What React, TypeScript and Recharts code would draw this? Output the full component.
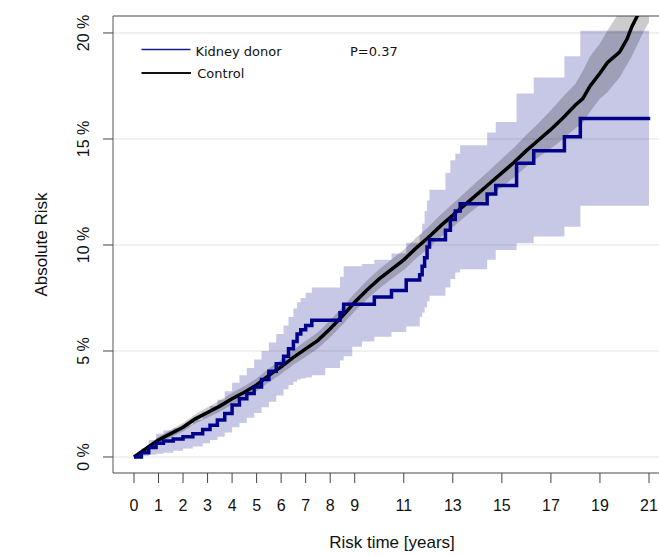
import React from "react";
import {
  ComposedChart,
  Line,
  Area,
  XAxis,
  YAxis,
  CartesianGrid,
  ReferenceArea,
} from "recharts";

// ---- Data (absolute risk in %) ----
const xTicks = [0, 1, 2, 3, 4, 5, 6, 7, 8, 9, 11, 13, 15, 17, 19, 21];
const yTicks = [0, 5, 10, 15, 20];

// Kidney donor (step curve)
const donorTime = [0, 0.3, 0.6, 0.9, 1.2, 1.6, 2.0, 2.4, 2.8, 3.1, 3.4, 3.7, 4.0, 4.3, 4.6, 4.9, 5.2, 5.5, 5.8, 6.1, 6.3, 6.5, 6.65, 6.8, 7.0, 7.25, 8.4, 8.55, 9.8, 10.5, 11.1, 11.65, 11.75, 11.85, 11.95, 12.05, 12.7, 12.9, 13.1, 13.3, 14.4, 14.75, 15.6, 16.3, 17.55, 18.2, 21.05];
const donorRisk = [0, 0.2, 0.45, 0.65, 0.75, 0.85, 0.95, 1.1, 1.3, 1.5, 1.75, 2.05, 2.45, 2.75, 3.0, 3.3, 3.65, 4.05, 4.4, 4.75, 5.1, 5.45, 5.8, 6.0, 6.2, 6.45, 6.8, 7.2, 7.55, 7.85, 8.35, 8.6, 9.0, 9.4, 9.9, 10.25, 10.7, 11.2, 11.6, 11.95, 12.4, 12.8, 13.85, 14.45, 15.1, 15.97, 15.97];

// Kidney donor confidence band (step)
const donorBandTime = [0, 0.3, 0.6, 0.9, 1.2, 1.6, 2.0, 2.4, 2.8, 3.1, 3.4, 3.7, 4.0, 4.3, 4.6, 4.9, 5.2, 5.5, 5.8, 6.1, 6.3, 6.5, 6.65, 6.8, 7.0, 7.25, 7.8, 8.4, 8.55, 8.9, 9.3, 9.8, 10.5, 11.1, 11.65, 11.75, 11.85, 11.95, 12.05, 12.7, 12.9, 13.1, 13.3, 14.4, 14.75, 15.6, 16.3, 17.55, 18.2, 21.0];
const donorBandLow = [0, 0.05, 0.1, 0.15, 0.2, 0.3, 0.4, 0.5, 0.65, 0.8, 0.95, 1.15, 1.4, 1.6, 1.85, 2.07, 2.35, 2.6, 2.9, 3.2, 3.4, 3.55, 3.65, 3.7, 3.75, 3.85, 4.2, 4.55, 4.75, 5.2, 5.45, 5.67, 5.9, 6.15, 6.6, 6.8, 7.05, 7.35, 7.6, 8.0, 8.4, 8.7, 8.85, 9.3, 9.76, 10.08, 10.4, 10.86, 11.85, 11.85];
const donorBandHigh = [0, 0.4, 0.8, 1.1, 1.25, 1.35, 1.5, 1.75, 2.1, 2.4, 2.7, 3.1, 3.5, 3.85, 4.2, 4.6, 5.0, 5.4, 5.8, 6.2, 6.6, 7.0, 7.3, 7.5, 7.75, 8.0, 8.0, 8.5, 9.0, 9.0, 9.1, 9.3, 9.6, 10.1, 10.5, 11.0, 11.6, 12.1, 12.6, 13.4, 14.0, 14.3, 14.7, 15.3, 15.8, 17.15, 17.9, 18.9, 20.1, 20.1];

// Control
const controlTime = [0, 0.5, 1, 1.5, 2, 2.5, 3, 3.5, 4, 4.5, 5, 5.5, 6, 6.5, 7, 7.5, 8, 8.5, 9, 9.5, 10, 10.5, 11, 11.5, 12, 12.5, 13, 13.5, 14, 14.5, 15, 15.5, 16, 16.5, 17, 17.5, 18, 18.3, 18.6, 19, 19.3, 19.8, 20.1, 20.3, 20.5, 20.8, 21];
const controlRisk = [0, 0.4, 0.8, 1.1, 1.4, 1.8, 2.1, 2.4, 2.75, 3.05, 3.4, 3.85, 4.25, 4.7, 5.1, 5.5, 6.05, 6.65, 7.3, 7.88, 8.4, 8.85, 9.3, 9.85, 10.35, 10.9, 11.4, 11.9, 12.4, 12.9, 13.4, 13.9, 14.45, 14.95, 15.45, 16.0, 16.6, 16.9, 17.5, 18.1, 18.6, 19.1, 19.7, 20.3, 20.75, 21.4, 21.8];
const controlLow = [0, 0.3, 0.65, 0.92, 1.2, 1.58, 1.85, 2.13, 2.47, 2.75, 3.1, 3.53, 3.91, 4.35, 4.73, 5.12, 5.65, 6.24, 6.88, 7.44, 7.95, 8.39, 8.82, 9.36, 9.85, 10.37, 10.85, 11.33, 11.8, 12.27, 12.73, 13.2, 13.7, 14.15, 14.55, 15.0, 15.5, 15.75, 16.3, 16.9, 17.2, 17.9, 18.5, 18.9, 19.4, 20.1, 20.5];
const controlHigh = [0, 0.5, 0.95, 1.28, 1.6, 2.02, 2.35, 2.67, 3.03, 3.35, 3.7, 4.17, 4.59, 5.05, 5.47, 5.88, 6.45, 7.06, 7.72, 8.32, 8.85, 9.31, 9.78, 10.34, 10.85, 11.43, 11.95, 12.47, 13.0, 13.53, 14.07, 14.6, 15.2, 15.75, 16.35, 17.0, 17.6, 18.2, 18.9, 19.5, 20.1, 21.0, 21.4, 21.7, 22.0, 22.5, 22.8];

const donorData = donorTime.map((t, i) => ({ t, risk: donorRisk[i] }));
const donorBandData = donorBandTime.map((t, i) => ({ t, lo: donorBandLow[i], hi: donorBandHigh[i] }));
const controlData = controlTime.map((t, i) => ({ t, risk: controlRisk[i] }));
const controlBandData = controlTime.map((t, i) => ({ t, lo: controlLow[i], hi: controlHigh[i] }));

const X_MIN = -0.856;
const X_MAX = 21.856;
const Y_MIN = -0.755;
const Y_MAX = 20.8;

const BLUE = "#00008B";
const AXIS_FONT = "'Liberation Sans', Arial, sans-serif";
const LEGEND_FONT = "'DejaVu Sans', Verdana, sans-serif";

const XTick = (props: any) => {
  const { x, y, payload } = props;
  return (
    <text x={x} y={y} dy="0.71em" textAnchor="middle" fontFamily={AXIS_FONT} fontSize={16} fill="#111">
      {payload.value}
    </text>
  );
};

const YTick = (props: any) => {
  const { x, y, payload } = props;
  return (
    <text
      x={x}
      y={y}
      transform={`rotate(-90 ${x} ${y})`}
      textAnchor="middle"
      fontFamily={AXIS_FONT}
      fontSize={16}
      fill="#111"
    >
      {`${payload.value} %`}
    </text>
  );
};

export default function App() {
  return (
    <div
      style={{
        position: "absolute",
        left: 0,
        top: 0,
        width: 659,
        height: 556,
        overflow: "hidden",
        background: "#fff",
      }}
    >
      <ComposedChart
        width={680}
        height={556}
        margin={{ top: 16, right: 10, bottom: 43, left: 53 }}
      >
        <CartesianGrid vertical={false} stroke="#e2e2e2" strokeWidth={1} />
        <XAxis
          dataKey="t"
          type="number"
          domain={[X_MIN, X_MAX]}
          ticks={xTicks}
          interval={0}
          allowDataOverflow
          axisLine={false}
          tickSize={10}
          tickMargin={17}
          tickLine={{ stroke: "#444" }}
          tick={<XTick />}
          height={40}
        />
        <YAxis
          type="number"
          domain={[Y_MIN, Y_MAX]}
          ticks={yTicks}
          interval={0}
          allowDataOverflow
          axisLine={false}
          tickSize={10}
          tickMargin={14}
          tickLine={{ stroke: "#444" }}
          tick={<YTick />}
          width={60}
        />
        <Area
          data={donorBandData}
          dataKey={(d: any) => [d.lo, d.hi]}
          type="stepAfter"
          stroke="none"
          fill={BLUE}
          fillOpacity={0.22}
          isAnimationActive={false}
          dot={false}
          activeDot={false}
        />
        <Area
          data={controlBandData}
          dataKey={(d: any) => [d.lo, d.hi]}
          type="linear"
          stroke="none"
          fill="#000"
          fillOpacity={0.2}
          isAnimationActive={false}
          dot={false}
          activeDot={false}
        />
        <Line
          data={controlData}
          dataKey="risk"
          type="linear"
          stroke="#000"
          strokeWidth={3.5}
          dot={false}
          activeDot={false}
          isAnimationActive={false}
        />
        <Line
          data={donorData}
          dataKey="risk"
          type="stepAfter"
          stroke={BLUE}
          strokeWidth={3.5}
          dot={false}
          activeDot={false}
          isAnimationActive={false}
        />
        <ReferenceArea
          x1={X_MIN}
          x2={X_MAX}
          y1={Y_MIN}
          y2={Y_MAX}
          fill="none"
          stroke="#555"
          strokeWidth={1}
          ifOverflow="visible"
        />
      </ComposedChart>
      <svg
        width={659}
        height={556}
        style={{ position: "absolute", left: 0, top: 0, pointerEvents: "none" }}
      >
        <line x1={141.5} x2={190.5} y1={49.5} y2={49.5} stroke="#1a1a8c" strokeWidth={1.6} />
        <text x={195.4} y={55.5} fontFamily={LEGEND_FONT} fontSize={13} fill="#111">
          Kidney donor
        </text>
        <line x1={141.5} x2={191} y1={73} y2={73} stroke="#111" strokeWidth={2.2} />
        <text x={197.3} y={78} fontFamily={LEGEND_FONT} fontSize={13} fill="#111">
          Control
        </text>
        <text x={350} y={56} fontFamily={LEGEND_FONT} fontSize={13} fill="#111">
          P=0.37
        </text>
        <text
          x={47}
          y={244.5}
          transform="rotate(-90 47 244.5)"
          textAnchor="middle"
          fontFamily={AXIS_FONT}
          fontSize={17}
          fill="#111"
        >
          Absolute Risk
        </text>
        <text x={392} y={548} textAnchor="middle" fontFamily={AXIS_FONT} fontSize={17} fill="#111">
          Risk time [years]
        </text>
      </svg>
    </div>
  );
}
